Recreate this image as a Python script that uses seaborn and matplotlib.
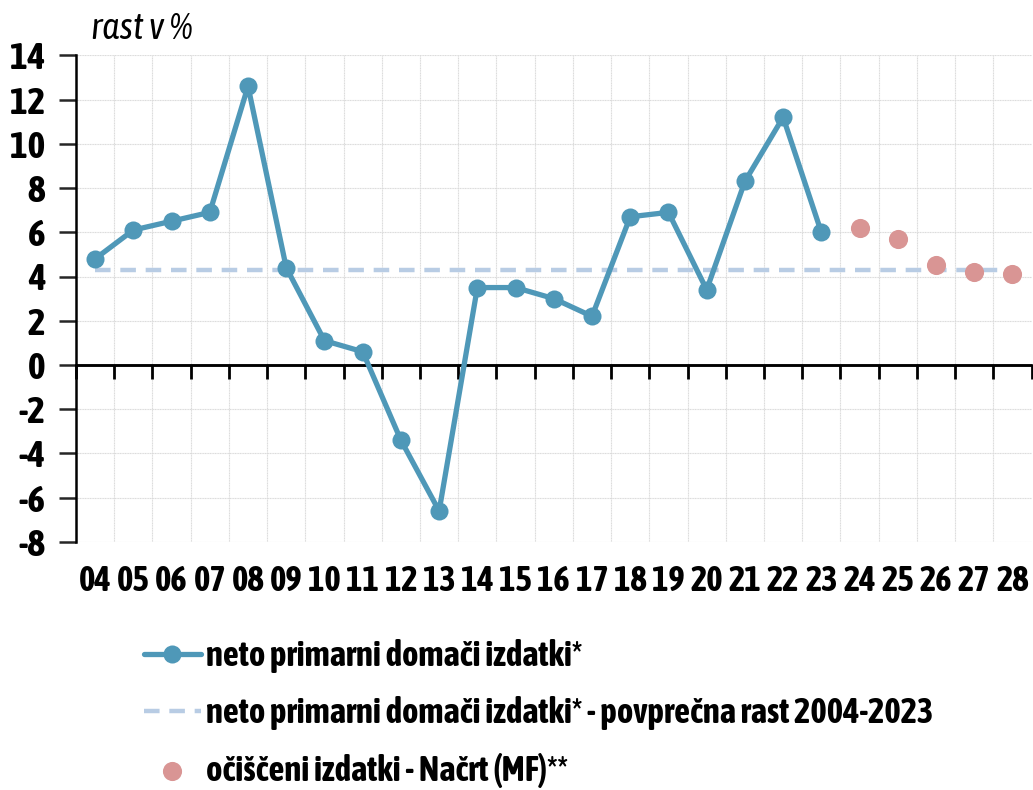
import numpy as np
import pandas as pd
import matplotlib
matplotlib.use("Agg")
import matplotlib.pyplot as plt
import seaborn as sns
from matplotlib.font_manager import fontManager

# --- Data ---
years = ["04", "05", "06", "07", "08", "09", "10", "11", "12", "13", "14", "15",
         "16", "17", "18", "19", "20", "21", "22", "23", "24", "25", "26", "27", "28"]
net_exp = [4.8, 6.1, 6.5, 6.9, 12.6, 4.4, 1.1, 0.6, -3.4, -6.6, 3.5, 3.5,
           3.0, 2.2, 6.7, 6.9, 3.4, 8.3, 11.2, 6.0]
draft_mf = [6.2, 5.7, 4.5, 4.2, 4.1]
avg_growth = 4.3

lbl_main = "neto primarni domači izdatki*"
lbl_avg = "neto primarni domači izdatki* - povprečna rast 2004-2023"
lbl_mf = "očiščeni izdatki - Načrt (MF)**"

# --- Style ---
sns.set_style("white")
fonts = [(f.name, f.stretch, f.weight) for f in fontManager.ttflist]
stretch = "normal"
family = "DejaVu Sans"
narrow = [n for n, _, _ in fonts if "Narrow" in n or "Condensed" in n]
narrow_bold = [n for n, _, w in fonts if ("Narrow" in n or "Condensed" in n)
               and (w in ("bold", "semibold", "demibold") or (isinstance(w, int) and w >= 600))]
if narrow_bold:
    family = narrow_bold[0]
elif narrow:
    family = narrow[0]
elif any(n == "DejaVu Sans" and s == "condensed" for n, s, _ in fonts):
    stretch = "condensed"
plt.rcParams["font.family"] = [family, "DejaVu Sans"]
plt.rcParams["font.stretch"] = stretch
plt.rcParams["axes.unicode_minus"] = False

pos = np.arange(len(years))
df_main = pd.DataFrame({"x": pos[:len(net_exp)], "y": net_exp})
df_mf = pd.DataFrame({"x": pos[len(net_exp):], "y": draft_mf})
df_avg = pd.DataFrame({"x": pos, "y": [avg_growth] * len(years)})

fig = plt.figure(figsize=(10.33, 7.90), dpi=100)
ax = fig.add_axes([0.0736, 0.314, 0.925, 0.616])

sns.lineplot(data=df_avg, x="x", y="y", ax=ax, color="#B8CCE4", linewidth=3.2,
             linestyle=(0, (3.5, 2.2)), label=lbl_avg, zorder=3)
sns.lineplot(data=df_main, x="x", y="y", ax=ax, color="#4F98B8", linewidth=3.8,
             marker="o", markersize=13, markeredgewidth=0, label=lbl_main, zorder=4)
sns.scatterplot(data=df_mf, x="x", y="y", ax=ax, color="#D99594", s=190,
                linewidth=0, label=lbl_mf, zorder=4)

ax.set_xlim(-0.5, len(years) - 0.5)
ax.set_ylim(-8, 14)
ax.set_yticks(np.arange(-8, 15, 2))
ax.set_xticks(pos)
ax.set_xticklabels(years)
ax.set_xticks(pos[:-1] + 0.5, minor=True)
ax.set_xlabel("")
ax.set_ylabel("")
ax.set_axisbelow(True)

ax.grid(True, which="minor", axis="x", color="#DADADA", linewidth=0.8, linestyle=(0, (1, 0.5)))
ax.grid(True, which="major", axis="y", color="#DADADA", linewidth=0.8, linestyle=(0, (1, 0.5)))
ax.grid(False, which="major", axis="x")

for s in ["top", "right", "bottom"]:
    ax.spines[s].set_visible(False)
ax.spines["left"].set_color("black")
ax.spines["left"].set_linewidth(1.8)

ax.tick_params(axis="y", which="major", direction="out", length=12, width=1.8,
               labelsize=27, pad=10, left=True, labelcolor="black")
ax.tick_params(axis="x", which="both", length=0, labelsize=25, pad=16, labelcolor="black")
for t in ax.get_xticklabels() + ax.get_yticklabels():
    t.set_fontweight("bold")

# zero line with category-boundary ticks
ax.axhline(0, color="black", linewidth=1.8, zorder=2)
sec = ax.secondary_xaxis(8 / 22)
sec.set_zorder(2.5)
sec.xaxis.set_ticks_position("bottom")
sec.set_xticks(np.append(pos - 0.5, pos[-1] + 0.5))
sec.set_xticklabels([])
sec.tick_params(axis="x", direction="out", length=10, width=2, color="black")
sec.spines["bottom"].set_linewidth(1.8)
sec.spines["bottom"].set_color("black")
sec.spines["top"].set_visible(False)

fig.text(0.088, 0.963, "rast v %", fontsize=27, style="italic", ha="left", va="center",
         color="black")

h, l = ax.get_legend_handles_labels()
order = [l.index(lbl_main), l.index(lbl_avg), l.index(lbl_mf)]
leg = ax.legend([h[i] for i in order], [l[i] for i in order], loc="upper left",
                bbox_to_anchor=(0.109, 0.231), bbox_transform=fig.transFigure,
                frameon=False, handlelength=1.65, handletextpad=0.15,
                labelspacing=0.66, prop={"weight": "bold", "size": 25, "stretch": stretch})
for t in leg.get_texts():
    t.set_color("black")

fig.savefig("out.png", dpi=100)
